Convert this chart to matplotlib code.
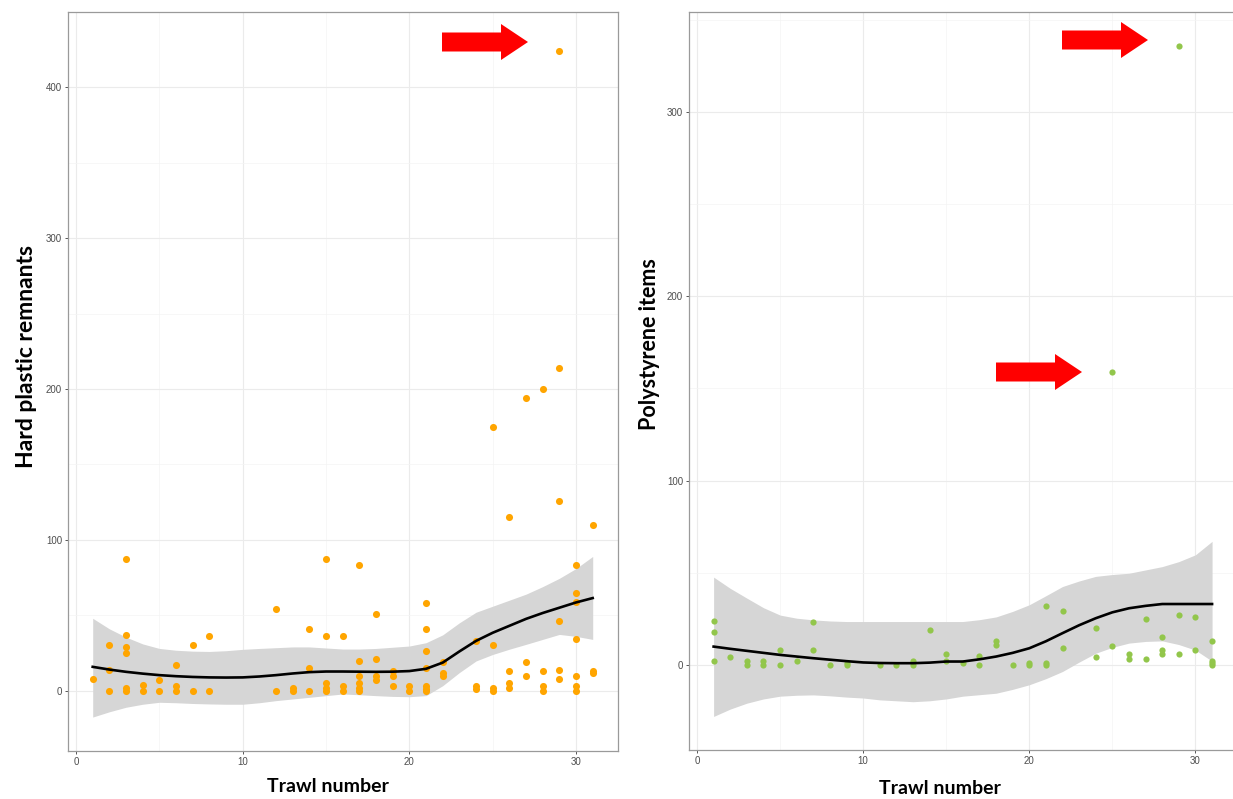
import numpy as np
import matplotlib
matplotlib.use("Agg")
import matplotlib.pyplot as plt
from matplotlib.patches import FancyArrow
from matplotlib.transforms import IdentityTransform

# Hard plastic remnants per trawl
hard_trawl = [1,
              2, 2, 2,
              3, 3, 3, 3, 3, 3,
              4, 4, 5, 5,
              6, 6, 6, 7, 7, 8, 8,
              12, 12, 13, 13,
              14, 14, 14,
              15, 15, 15, 15, 15,
              16, 16, 16,
              17, 17, 17, 17, 17, 17,
              18, 18, 18, 18,
              19, 19, 19, 20, 20,
              21, 21, 21, 21, 21, 21, 21,
              22, 22, 22, 24, 24, 24,
              25, 25, 25, 25,
              26, 26, 26, 26,
              27, 27, 27,
              28, 28, 28, 28,
              29, 29, 29, 29, 29, 29,
              30, 30, 30, 30, 30, 30, 30,
              31, 31, 31]
hard_count = [8,
              30, 14, 0,
              87, 37, 29, 25, 2, 0,
              4, 0, 7, 0,
              17, 3, 0, 30, 0, 36, 0,
              54, 0, 2, 0,
              41, 15, 0,
              87, 36, 5, 2, 0,
              36, 3, 0,
              83, 20, 10, 5, 2, 0,
              51, 21, 10, 7,
              13, 10, 3, 3, 0,
              58, 41, 26, 15, 3, 1, 0,
              19, 12, 10, 33, 3, 1,
              175, 30, 2, 0,
              115, 13, 5, 2,
              194, 19, 10,
              200, 13, 3, 0,
              424, 214, 126, 46, 14, 8,
              83, 65, 59, 34, 10, 3, 0,
              110, 12, 13]

# Polystyrene items per trawl
poly_trawl = [1, 1, 1, 2, 3, 3, 4, 4, 5, 5, 6, 7, 7, 8, 9, 9,
              11, 12, 13, 13, 14, 15, 15, 16, 17, 17, 18, 18, 19,
              20, 20, 21, 21, 21, 22, 22, 24, 24, 25, 25, 26, 26,
              27, 27, 28, 28, 28, 29, 29, 29, 30, 30, 31, 31, 31, 31]
poly_count = [24, 18, 2, 4, 2, 0, 2, 0, 8, 0, 2, 23, 8, 0, 1, 0,
              0, 0, 2, 0, 19, 6, 2, 1, 5, 0, 13, 11, 0,
              1, 0, 32, 1, 0, 29, 9, 20, 4, 159, 10, 6, 3,
              25, 3, 15, 8, 6, 336, 27, 6, 26, 8, 13, 2, 1, 0]

# smoothed trend and 95% band at each trawl
smooth_trawl = list(range(1, 32))
hard_fit = [15.8, 14, 12.5, 11.3, 10.3, 9.6, 9.1, 8.8, 8.7, 8.8, 9.4, 10.3, 11.4, 12.3,
            12.7, 12.7, 12.6, 12.5, 12.6, 13, 14.5, 18.6, 26, 33, 38.4, 43, 47.6, 51.5,
            55, 58.5, 61.4]
hard_hi = [48, 41, 35.5, 31, 28, 26.8, 26.2, 26, 26.5, 27.4, 28, 28.5, 29, 29, 28.3,
           27.6, 27.6, 28, 28.8, 29.6, 31.8, 37, 45, 52, 56, 60, 64, 69, 74.5, 81, 89]
hard_lo = [-17.5, -14, -11, -9, -7.7, -8, -8.5, -8.8, -9, -9, -8, -6.6, -5.5, -4.4,
           -3.3, -2.2, -2.7, -3.3, -3.8, -4, -3.3, 3.3, 12, 19.7, 24, 27.5, 30.7, 34,
           37.3, 36, 34]
poly_fit = [9.9, 8.7, 7.6, 6.5, 5.4, 4.5, 3.6, 2.8, 2, 1.3, 1, 0.9, 0.9, 1.2, 1.8, 1.8,
            3, 4.5, 6.5, 9, 12.8, 17.2, 21.5, 25.3, 28.5, 30.7, 32, 33, 33, 33, 33]
poly_hi = [47.6, 41.5, 36.2, 31, 27, 25.3, 24.4, 23.8, 23.5, 23.5, 23.5, 23.5, 23.5,
           23.5, 23.5, 23.5, 24.5, 26, 29, 32.6, 37.5, 42.5, 45.5, 48, 49, 49.7, 51.5,
           53.3, 56, 59.7, 67]
poly_lo = [-28, -24, -20.8, -18.5, -17, -16.5, -16.3, -16.8, -17.5, -18, -19, -19.5,
           -20, -19.5, -18.5, -17, -16.2, -15.4, -13.3, -10.8, -7.5, -3.6, 1.5, 6.3,
           9.5, 11.8, 12.7, 13, 11, 8, 2]

W, H = 1233, 799


def panel(ax, x, y, fit, lo, hi, colour, ylim, yticks, size):
    ax.fill_between(smooth_trawl, lo, hi, color="#D6D6D6", lw=0, zorder=2)
    ax.scatter(x, y, s=size, color=colour, lw=0, zorder=3)
    ax.plot(smooth_trawl, fit, color="black", lw=1.9, zorder=4,
            solid_joinstyle="round")
    ax.set_xlim(-0.5, 32.5)
    ax.set_ylim(*ylim)
    ax.set_xticks([0, 10, 20, 30])
    ax.set_xticks([5, 15, 25], minor=True)
    ax.set_yticks(yticks)
    ax.set_yticks([v + 50 for v in yticks], minor=True)
    ax.grid(True, which="major", color="#EBEBEB", lw=0.8, zorder=0)
    ax.grid(True, which="minor", color="#F4F4F4", lw=0.5, zorder=0)
    ax.set_axisbelow(True)
    ax.tick_params(which="major", length=2.5, width=0.7, color="#555555",
                   labelsize=7, labelcolor="#4D4D4D", pad=1.5)
    ax.tick_params(which="minor", length=0)
    for lab in ax.get_xticklabels() + ax.get_yticklabels():
        lab.set_family("Liberation Sans")
    for s in ax.spines.values():
        s.set_color("#9A9A9A")
        s.set_linewidth(0.9)


fig = plt.figure(figsize=(W / 100, H / 100), dpi=100)

ax1 = fig.add_axes([67.7 / W, 1 - 751 / H, 550 / W, 739 / H])
panel(ax1, hard_trawl, hard_count, hard_fit, hard_lo, hard_hi, "#FFA500",
      (-40, 446), [0, 100, 200, 300, 400], 26)

ax2 = fig.add_axes([688.7 / W, 1 - 750 / H, 548.3 / W, 738 / H])
panel(ax2, poly_trawl, poly_count, poly_fit, poly_lo, poly_hi, "#92C64B",
      (-46.2, 354.2), [0, 100, 200, 300], 20)

title_font = dict(family="Lato", fontweight="bold", color="black")
fig.text(328 / W, 1 - 787 / H, "Trawl number", ha="center", va="center",
         fontsize=14, **title_font)
fig.text(940 / W, 1 - 789 / H, "Trawl number", ha="center", va="center",
         fontsize=14, **title_font)
fig.text(27 / W, 1 - 357 / H, "Hard plastic remnants", ha="center", va="center",
         rotation=90, fontsize=16.5, **title_font)
fig.text(650 / W, 1 - 344 / H, "Polystyrene items", ha="center", va="center",
         rotation=90, fontsize=15.5, **title_font)


def red_arrow(x0, x1, yc):
    fig.add_artist(FancyArrow(x0, H - yc, x1 - x0, 0, width=19, head_width=36,
                              head_length=27, length_includes_head=True,
                              color="#FF0000", lw=0, transform=IdentityTransform()))


red_arrow(442, 528, 42)
red_arrow(1062, 1148, 40)
red_arrow(996, 1082, 372)

fig.savefig("out.png", dpi=100)
